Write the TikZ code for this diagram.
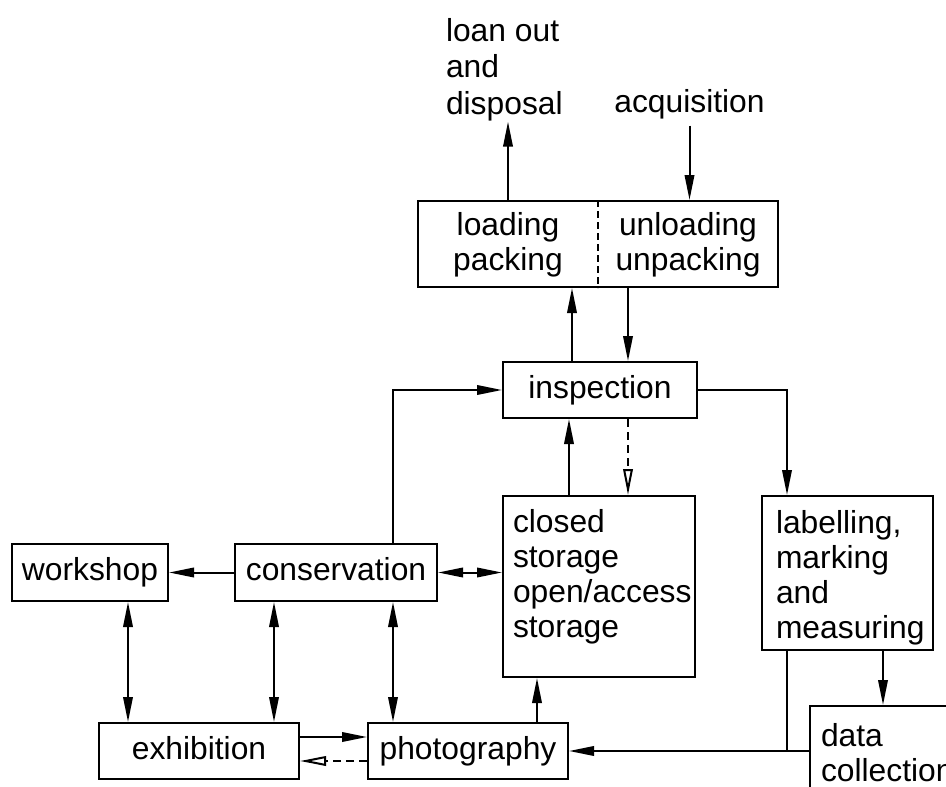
\documentclass[tikz,border=0pt]{standalone}
\usepackage{fontspec}
\setmainfont{Liberation Sans}
\usetikzlibrary{arrows.meta}
\begin{document}
\begin{tikzpicture}[x=1pt,y=-1pt, line width=2pt,
 every node/.style={font=\fontsize{31.8}{35}\selectfont, inner sep=0pt},
 >={Triangle[length=25pt,width=9.5pt]},
 box/.style={draw, rectangle, text height=23pt, text depth=7pt, line width=2pt},
 txt/.style={align=left, anchor=north west},
 darr/.style={-{Triangle[open,length=26pt,width=9.5pt]}, dash pattern=on 8pt off 5pt}]
\useasboundingbox (0,0) rectangle (946,787);
\fill[white] (0,0) rectangle (946,787);
\clip (0,0) rectangle (946,787);

\node[box, minimum width=360pt, minimum height=86pt] (load) at (598,244) {};
\node[align=center] (loadt) at (508,245) {loading\\packing};
\node[align=center] (unloadt) at (688,245) {unloading\\unpacking};
\node[box, minimum width=194pt, minimum height=56pt] (insp) at (600,390) {inspection};
\node[box, minimum width=192pt, minimum height=181pt] (stor) at (599,586.5) {};
\node[txt] (stort) at (512,508) {closed\\storage\\open/access\\storage};
\node[box, minimum width=171pt, minimum height=154pt] (lab) at (847.5,573) {};
\node[txt] (labt) at (775,509) {labelling,\\marking\\and\\measuring};
\node[box, minimum width=202pt, minimum height=57pt] (cons) at (336,572.5) {conservation};
\node[box, minimum width=156pt, minimum height=57pt] (work) at (90,572.5) {workshop};
\node[box, minimum width=200pt, minimum height=56pt] (exh) at (199,751) {exhibition};
\node[box, minimum width=200pt, minimum height=56pt] (photo) at (468,751) {photography};
\node[box, minimum width=160pt, minimum height=100pt] (data) at (890,756) {};
\node[txt] (datat) at (820,722) {data\\collection};
\node[txt, font=\fontsize{31.8}{36.5}\selectfont] (loan) at (445,17) {loan out\\and\\disposal};
\node[anchor=base] (acq) at (689.5,112) {acquisition};

\draw[dash pattern=on 7pt off 4pt, line width=1.5pt] (load.north) -- (load.south);
\draw[->] ([xshift=-90pt]load.north) -- ([xshift=-90pt]load.north |- loan.south);
\draw[->, shorten <=6pt] (acq.south) -- (acq.south |- load.north);
\draw[->] ([xshift=-28pt]insp.north) -- ([xshift=-28pt]insp.north |- load.south);
\draw[->] ([xshift=28pt]insp.north |- load.south) -- ([xshift=28pt]insp.north);
\draw[->] ([xshift=-31pt]insp.south |- stor.north) -- ([xshift=-31pt]insp.south);
\draw[darr] ([xshift=28pt]insp.south) -- ([xshift=28pt]insp.south |- stor.north);
\draw[->] ([xshift=57pt]cons.north) |- (insp.west);
\draw[->] (insp.east) -| ([xshift=-60.5pt]lab.north);
\draw[->] (cons.west) -- (work.east);
\draw[<->] (cons.east) -- (cons.east -| stor.west);
\draw[<->] ([xshift=38pt]work.south) -- ([xshift=38pt]work.south |- exh.north);
\draw[<->] ([xshift=-62pt]cons.south) -- ([xshift=-62pt]cons.south |- exh.north);
\draw[<->] ([xshift=57pt]cons.south) -- ([xshift=57pt]cons.south |- photo.north);
\draw[->] ([xshift=69pt]photo.north) -- ([xshift=69pt]photo.north |- stor.south);
\draw[->] ([yshift=14pt]exh.east) -- ([yshift=14pt]exh.east -| photo.west);
\draw[darr] ([yshift=-10pt]photo.west) -- ([yshift=-10pt]photo.west -| exh.east);
\draw[->] (data.west |- photo.east) -- (photo.east);
\draw ([xshift=-60.5pt]lab.south) -- ([xshift=-60.5pt]lab.south |- photo.east);
\draw[->] ([xshift=35.5pt]lab.south) -- ([xshift=35.5pt]lab.south |- data.north);
\end{tikzpicture}
\end{document}
